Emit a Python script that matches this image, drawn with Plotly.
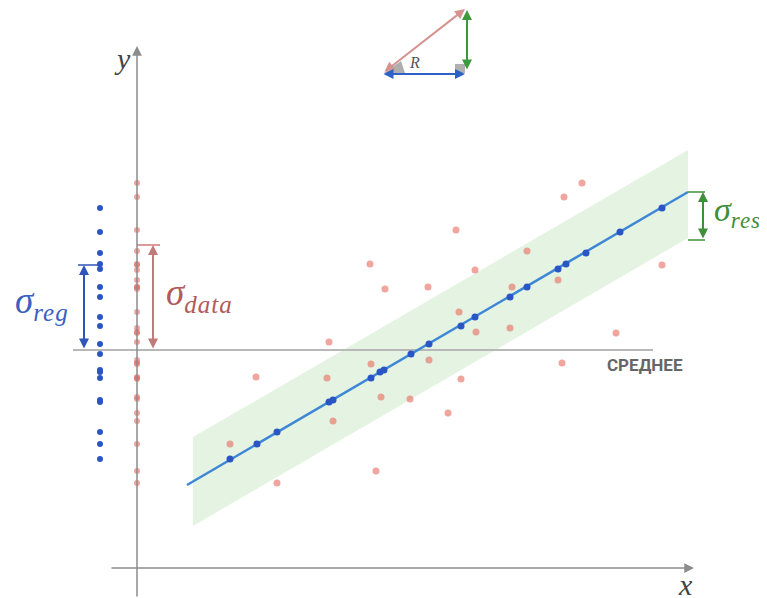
import plotly.graph_objects as go

# Coordinates: origin at the axes crossing, 1 unit ~ 1 px
obs_x = [93, 119, 140, 190, 192, 196, 233, 234, 239, 244, 248, 273, 291, 292, 311, 319,
         322, 324, 338, 339, 373, 375, 390, 421, 425, 427, 445, 479, 525]
obs_y = [124, 191, 85, 190, 226, 147, 304, 204, 97, 171, 279, 169, 281, 208, 155, 338,
         256, 189, 298, 236, 240, 281, 317, 288, 205, 371, 385, 235, 303]

fit_x = [93, 120, 140, 192, 196, 234, 243, 247, 274, 292, 324, 338, 373, 390, 421, 429, 449, 483, 525]
fit_y = [109, 124, 136, 166, 168, 190, 196, 198, 214, 224, 242, 251, 271, 281, 299, 304, 315, 336, 360]

line_x = [50, 551]
line_y = [83, 376]

band_x = [56, 551]
band_upper = [131, 418]
band_lower = [42, 330]

mean_y = 218
mean_x = [-64, 516]

data_col_x = 0
reg_col_x = -37

sigma_reg = [218, 303]
sigma_data = [218, 323]
sigma_res = [328, 376]

RED = "rgba(230,105,95,0.6)"
BLUE = "#2a55c4"
LINE = "#3d87d6"
GREEN = "#3f8f3a"
SERIF = "Liberation Serif, DejaVu Serif, serif"

fig = go.Figure()

# residual band
fig.add_trace(go.Scatter(
    x=[band_x[0], band_x[1], band_x[1], band_x[0]],
    y=[band_upper[0], band_upper[1], band_lower[1], band_lower[0]],
    fill="toself", fillcolor="rgba(160,215,150,0.28)", line=dict(width=0),
    mode="lines", hoverinfo="skip"))

# mean line
fig.add_trace(go.Scatter(x=mean_x, y=[mean_y, mean_y], mode="lines",
                         line=dict(color="#b8b8b8", width=2), hoverinfo="skip"))

# projections on the left
fig.add_trace(go.Scatter(x=[data_col_x] * len(obs_y), y=obs_y, mode="markers",
                         marker=dict(color=RED, size=6)))
fig.add_trace(go.Scatter(x=[reg_col_x] * len(fit_y), y=fit_y, mode="markers",
                         marker=dict(color=BLUE, size=6)))

# observations
fig.add_trace(go.Scatter(x=obs_x, y=obs_y, mode="markers",
                         marker=dict(color=RED, size=7)))
# regression line
fig.add_trace(go.Scatter(x=line_x, y=line_y, mode="lines",
                         line=dict(color=LINE, width=2.5)))
# fitted values
fig.add_trace(go.Scatter(x=fit_x, y=fit_y, mode="markers",
                         marker=dict(color=BLUE, size=7)))

ann = []
shapes = []


def arrow(x0, y0, x1, y1, color, width=2, both=True, head=2, size=1.0):
    ann.append(dict(x=x1, y=y1, ax=x0, ay=y0, xref="x", yref="y", axref="x", ayref="y",
                    text="", showarrow=True, arrowhead=head, startarrowhead=head,
                    arrowside="end+start" if both else "end",
                    arrowsize=size, startarrowsize=size, arrowwidth=width, arrowcolor=color))


def seg(x0, y0, x1, y1, color, width=1.5):
    shapes.append(dict(type="line", x0=x0, y0=y0, x1=x1, y1=y1, xref="x", yref="y",
                       line=dict(color=color, width=width)))


def sigma(sub, sub_px=25):
    return ("<i>σ<sub><span style='font-size:%dpx;letter-spacing:1px'>%s</span></sub></i>"
            % (sub_px, sub))


# axes
arrow(0, -30, 0, 522, "#8c8c8c", width=1.5, both=False, head=2, size=1.3)
arrow(-27, 0, 557, 0, "#8c8c8c", width=1.5, both=False, head=2, size=1.3)
ann.append(dict(x=-15, y=510, text="<i>y</i>", showarrow=False, xref="x", yref="y",
                font=dict(family=SERIF, size=30, color="#444")))
ann.append(dict(x=548, y=-16, text="<i>x</i>", showarrow=False, xref="x", yref="y",
                font=dict(family=SERIF, size=30, color="#444")))

# sigma_reg
arrow(-53, sigma_reg[0], -53, sigma_reg[1], "#2f55b8", width=2)
seg(-59, sigma_reg[1], -37, sigma_reg[1], "#2f55b8")
ann.append(dict(x=-124, y=265, text=sigma("reg"), showarrow=False, xref="x", yref="y",
                xanchor="left", font=dict(family=SERIF, size=37, color="#3a5fc0")))

# sigma_data
arrow(16, sigma_data[0], 16, sigma_data[1], "#c07a78", width=2)
seg(0, sigma_data[1], 23, sigma_data[1], "#d07a78")
ann.append(dict(x=27, y=273, text=sigma("data"), showarrow=False, xref="x", yref="y",
                xanchor="left", font=dict(family=SERIF, size=37, color="#b35a58")))

# sigma_res
arrow(566, sigma_res[0], 566, sigma_res[1], GREEN, width=2)
seg(551, sigma_res[0], 568, sigma_res[0], GREEN)
seg(551, sigma_res[1], 568, sigma_res[1], GREEN)
ann.append(dict(x=575, y=356, text=sigma("res", 23), showarrow=False, xref="x", yref="y",
                xanchor="left", font=dict(family=SERIF, size=34, color=GREEN)))

# mean label
ann.append(dict(x=508, y=203, text="<b>СРЕДНЕЕ</b>", showarrow=False, xref="x", yref="y",
                font=dict(family="Liberation Sans Narrow, Roboto, sans-serif", size=17, color="#666666")))

# top triangle diagram
shapes.append(dict(type="rect", x0=318, y0=495, x1=328, y1=504, xref="x", yref="y",
                   fillcolor="#b0b0b0", line=dict(width=0)))
shapes.append(dict(type="path", path="M 247,495 L 268,495 L 264,507 Z", xref="x", yref="y",
                   fillcolor="rgba(120,120,120,0.6)", line=dict(width=0)))
arrow(246, 495, 328, 559, "#d49390", width=2)
arrow(330, 497, 330, 558, "#3c9a3c", width=2)
arrow(245, 494, 328, 494, "#2c62c8", width=2)
ann.append(dict(x=277, y=506, text="<i>R</i>", showarrow=False, xref="x", yref="y",
                font=dict(family=SERIF, size=16, color="#555")))

# page body has an 8px margin: figure spans page px 8..767 and 8..598
fig.update_layout(
    width=759, height=590, margin=dict(l=0, r=0, t=0, b=0),
    paper_bgcolor="white", plot_bgcolor="white", showlegend=False,
    xaxis=dict(range=[-129, 630], visible=False, fixedrange=True),
    yaxis=dict(range=[-30, 560], visible=False, fixedrange=True),
    annotations=ann, shapes=shapes,
)

fig.write_html("out.html", config={"displayModeBar": False})
